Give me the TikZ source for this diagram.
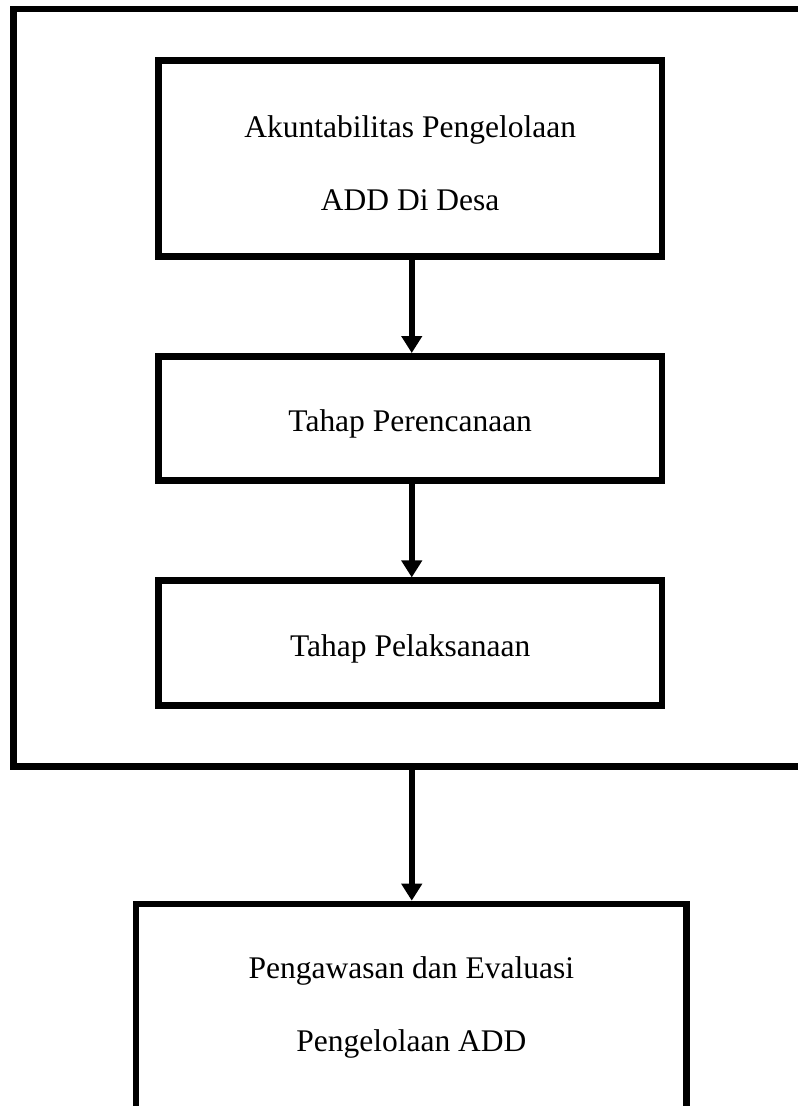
\documentclass[tikz,border=0pt]{standalone}
\usepackage{fontspec}
\setmainfont{Liberation Serif}
\usetikzlibrary{arrows.meta,calc}
\begin{document}
\begin{tikzpicture}[x=1pt,y=1pt,
  frame/.style={draw=black,line width=6.5pt,rectangle,inner sep=0pt},
  stagebox/.style={frame,minimum width=503.7pt},
  flowarrow/.style={line width=6.5pt,-{Triangle[width=20pt,length=17pt]}},
  lbl/.style={align=center,font=\fontsize{31.5}{73}\selectfont,inner sep=0pt}]
\useasboundingbox (0,0) rectangle (798,1106);
\clip (0,0) rectangle (798,1106);
% outer frame (right edge runs off the page)
\node[frame,minimum width=796.5pt,minimum height=757.7pt] (outer) at (411.75,718.15) {};
% stages
\node[stagebox,minimum height=196pt,
  label={[lbl,yshift=-4.5pt]center:Akuntabilitas Pengelolaan\\ADD Di Desa}] (akun) at (410.2,947.3) {};
\node[stagebox,minimum height=124.2pt,
  label={[lbl,yshift=-6pt]center:Tahap Perencanaan}] (renc) at (410.2,687.6) {};
\node[stagebox,minimum height=124.6pt,
  label={[lbl,yshift=-6pt]center:Tahap Pelaksanaan}] (pelak) at (410.2,463) {};
% bottom box (bottom edge runs off the page)
\node[frame,minimum width=550.7pt,minimum height=260pt,anchor=north,
  label={[lbl,anchor=center,yshift=-107pt]north:Pengawasan dan Evaluasi\\Pengelolaan ADD}] (awas) at (411.35,205.3) {};
% arrows
\draw[flowarrow] (akun.south -| outer.south) -- (renc.north -| outer.south);
\draw[flowarrow] (renc.south -| outer.south) -- (pelak.north -| outer.south);
\draw[flowarrow] (outer.south) -- (awas.north -| outer.south);
\end{tikzpicture}
\end{document}
